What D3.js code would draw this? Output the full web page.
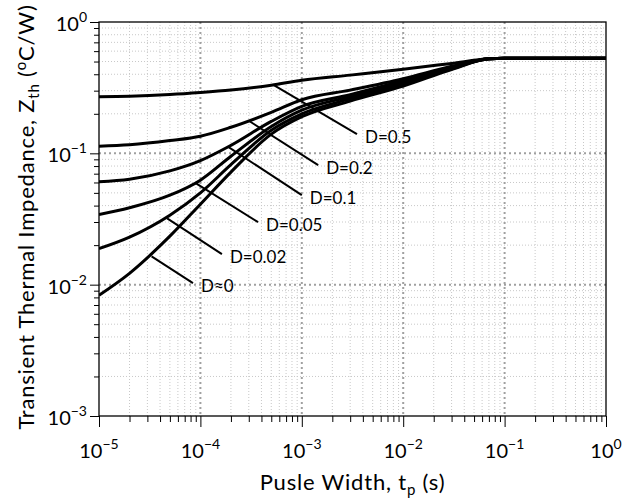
<!DOCTYPE html>
<html lang="en">
<head>
<meta charset="UTF-8">
<title>Transient Thermal Impedance</title>
<script src="https://d3js.org/d3.v7.min.js"></script>
<style>
  body { margin: 0; background: #fff; }
  text { font-family: Lato, "Open Sans", sans-serif; fill: #000; }
</style>
</head>
<body>
<svg id="chart" width="637" height="500"></svg>
<script>
// pulse width (s)
const tp = [1e-5, 2e-5, 5e-5, 1e-4, 2e-4, 5e-4, 1e-3, 3e-3, 1e-2, 3e-2, 7e-2, 1e-1, 1];

// Zth (degC/W) for each duty cycle
const zD05  = [0.27,   0.272,  0.28,   0.29,   0.303, 0.33,  0.36,  0.394, 0.436, 0.484, 0.525, 0.53, 0.53];
const zD02  = [0.113,  0.116,  0.125,  0.135,  0.158, 0.205, 0.256, 0.303, 0.37,  0.46,  0.525, 0.53, 0.53];
const zD01  = [0.0607, 0.0635, 0.0735, 0.088,  0.115, 0.175, 0.228, 0.28,  0.357, 0.45,  0.525, 0.53, 0.53];
const zD005 = [0.0342, 0.0385, 0.048,  0.0625, 0.095, 0.16,  0.213, 0.27,  0.345, 0.445, 0.525, 0.53, 0.53];
const zD002 = [0.0188, 0.023,  0.0338, 0.05,   0.082, 0.15,  0.2,   0.26,  0.335, 0.44,  0.525, 0.53, 0.53];
const zD0   = [0.0083, 0.0122, 0.0234, 0.041,  0.072, 0.14,  0.19,  0.25,  0.325, 0.435, 0.525, 0.53, 0.53];

const series = [zD05, zD02, zD01, zD005, zD002, zD0];

// curve labels with their leader lines (start on curve, end near text)
const labels     = ["D=0.5", "D=0.2", "D=0.1", "D=0.05", "D=0.02", "D\u22480"];
const leadStartT = [5.3e-4, 3.0e-4, 1.88e-4, 8.9e-5, 4.7e-5, 3.3e-5];
const leadStartZ = [0.331,  0.177,  0.112,   0.0596, 0.032,  0.0164];
const leadEndT   = [3.5e-3, 1.45e-3, 1.0e-3, 3.7e-4, 1.63e-4, 8.45e-5];
const leadEndZ   = [0.140,  0.0813,  0.048,  0.0299, 0.0171,  0.01026];

const xMajor = [1e-5, 1e-4, 1e-3, 1e-2, 1e-1, 1];
const xExp   = ["\u22125", "\u22124", "\u22123", "\u22122", "\u22121", "0"];
const yMajor = [1e-3, 1e-2, 1e-1, 1];
const yExp   = ["\u22123", "\u22122", "\u22121", "0"];

const svg = d3.select("#chart");
const mLeft = 99, mRight = 606, mTop = 22, mBottom = 416;

const x = d3.scaleLog().domain([1e-5, 1]).range([mLeft, mRight]);
const y = d3.scaleLog().domain([1e-3, 1]).range([mBottom, mTop]);

const xMinor = x.ticks().filter(v => !xMajor.some(m => Math.abs(m - v) / m < 1e-6));
const yMinor = y.ticks().filter(v => !yMajor.some(m => Math.abs(m - v) / m < 1e-6));

// grid
const grid = svg.append("g");
grid.selectAll(".gxm").data(xMinor).join("line")
    .attr("x1", d => x(d)).attr("x2", d => x(d)).attr("y1", mTop).attr("y2", mBottom)
    .attr("stroke", "#c8c8c8").attr("stroke-width", 1).attr("stroke-dasharray", "1,2");
grid.selectAll(".gym").data(yMinor).join("line")
    .attr("y1", d => y(d)).attr("y2", d => y(d)).attr("x1", mLeft).attr("x2", mRight)
    .attr("stroke", "#c8c8c8").attr("stroke-width", 1).attr("stroke-dasharray", "1,2");
grid.selectAll(".gxM").data(xMajor.slice(1, -1)).join("line")
    .attr("x1", d => x(d)).attr("x2", d => x(d)).attr("y1", mTop).attr("y2", mBottom)
    .attr("stroke", "#a0a0a0").attr("stroke-width", 2).attr("stroke-dasharray", "2,3");
grid.selectAll(".gyM").data(yMajor.slice(1, -1)).join("line")
    .attr("y1", d => y(d)).attr("y2", d => y(d)).attr("x1", mLeft).attr("x2", mRight)
    .attr("stroke", "#a0a0a0").attr("stroke-width", 2).attr("stroke-dasharray", "2,3");

// axes ticks
function tickAxis(axis) {
  return g => { g.call(axis); g.select(".domain").remove(); g.selectAll("line").attr("stroke", "#000"); };
}
svg.append("g").attr("transform", `translate(0,${mBottom})`)
    .call(tickAxis(d3.axisBottom(x).tickValues(xMajor).tickSize(11).tickFormat("")));
svg.append("g").attr("transform", `translate(0,${mBottom})`)
    .call(tickAxis(d3.axisBottom(x).tickValues(xMinor).tickSize(6).tickFormat("")));
svg.append("g").attr("transform", `translate(${mLeft},0)`)
    .call(tickAxis(d3.axisLeft(y).tickValues(yMajor).tickSize(9).tickFormat("")));
svg.append("g").attr("transform", `translate(${mLeft},0)`)
    .call(tickAxis(d3.axisLeft(y).tickValues(yMinor).tickSize(5).tickFormat("")));

// tick labels
const xl = svg.append("g").selectAll("text").data(xMajor).join("text")
    .attr("x", d => x(d)).attr("y", 458).attr("text-anchor", "middle").attr("font-size", 20);
xl.append("tspan").text("10");
xl.append("tspan").attr("dy", -9).attr("font-size", 14).text((d, i) => xExp[i]);

const yl = svg.append("g").selectAll("text").data(yMajor).join("text")
    .attr("x", 87).attr("y", d => y(d) + 9).attr("text-anchor", "end").attr("font-size", 20);
yl.append("tspan").text("10");
yl.append("tspan").attr("dy", -9).attr("font-size", 14).text((d, i) => yExp[i]);

// curves
const line = d3.line().x((d, i) => x(tp[i])).y(d => y(d)).curve(d3.curveMonotoneX);
svg.append("clipPath").attr("id", "clip").append("rect")
    .attr("x", mLeft).attr("y", mTop - 2).attr("width", mRight - mLeft + 1).attr("height", mBottom - mTop + 2);
svg.append("g").attr("clip-path", "url(#clip)")
  .selectAll("path").data(series).join("path")
    .attr("d", line).attr("fill", "none").attr("stroke", "#000").attr("stroke-width", 3);

// leaders and labels
const ann = svg.append("g");
labels.forEach((lab, i) => {
  const x1 = x(leadStartT[i]), y1 = y(leadStartZ[i]);
  const x2 = x(leadEndT[i]), y2 = y(leadEndZ[i]);
  ann.append("line").attr("x1", x1).attr("y1", y1).attr("x2", x2).attr("y2", y2)
      .attr("stroke", "#000").attr("stroke-width", 2);
  ann.append("text").attr("x", x2 + 8).attr("y", y2 + 9).attr("font-size", 17).text(lab);
});

// frame
svg.append("rect").attr("x", mLeft).attr("y", mTop).attr("width", mRight - mLeft).attr("height", mBottom - mTop)
    .attr("fill", "none").attr("stroke", "#000").attr("stroke-width", 1.3);

// axis titles
const xt = svg.append("text").attr("x", (mLeft + mRight) / 2).attr("y", 490)
    .attr("text-anchor", "middle").attr("font-size", 22).attr("letter-spacing", 0.8);
xt.append("tspan").text("Pusle Width, t");
xt.append("tspan").attr("dy", 5).attr("font-size", 15).text("p");
xt.append("tspan").attr("dy", -5).text(" (s)");

const yt = svg.append("text").attr("transform", `translate(34,${(mTop + mBottom) / 2 - 2}) rotate(-90)`)
    .attr("text-anchor", "middle").attr("font-size", 22).attr("letter-spacing", 0.8);
yt.append("tspan").text("Transient Thermal Impedance, Z");
yt.append("tspan").attr("dy", 5).attr("font-size", 15).text("th");
yt.append("tspan").attr("dy", -5).text(" (");
yt.append("tspan").attr("dy", -8).attr("font-size", 15).text("o");
yt.append("tspan").attr("dy", 8).text("C/W)");
</script>
</body>
</html>
